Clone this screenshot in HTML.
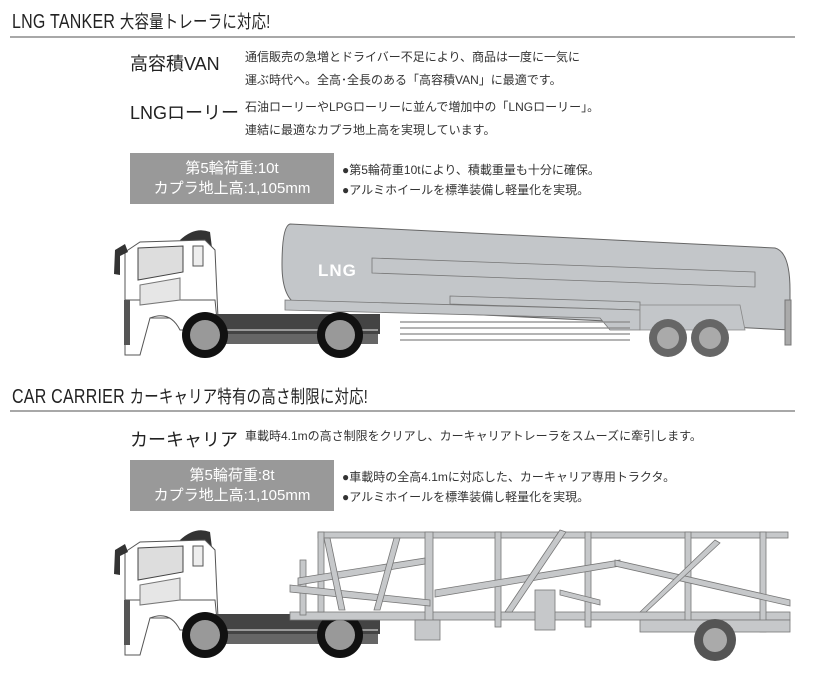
<!DOCTYPE html>
<html><head><meta charset="utf-8"><style>
body{margin:0;background:#fff;width:833px;height:676px;overflow:hidden;position:relative;font-family:"Liberation Sans","Noto Sans CJK JP",sans-serif;color:#333}
.a{position:absolute;white-space:nowrap}
.h{font-size:20px;transform:scaleX(.8);transform-origin:0 0;letter-spacing:.3px;color:#222}
.h span{font-size:18px}
.rule{position:absolute;left:10px;width:785px;height:2px;background:#a8a8a8}
.t{font-size:18px;color:#222}
.p{font-size:12px;line-height:23px}
.box{position:absolute;left:130px;width:204px;height:51px;background:#999;color:#fff;font-size:15px;line-height:20px;text-align:center;padding-top:6px;box-sizing:border-box}
.b{font-size:12px;line-height:20px}
svg{position:absolute;left:0;top:0}
</style></head><body>
<div class="a h" style="left:12px;top:8px">LNG TANKER <span>大容量トレーラに対応!</span></div>
<div class="rule" style="top:36px"></div>
<div class="a t" style="left:130px;top:50px">高容積VAN</div>
<div class="a p" style="left:245px;top:46px">通信販売の急増とドライバー不足により、商品は一度に一気に<br>運ぶ時代へ。全高･全長のある「高容積VAN」に最適です。</div>
<div class="a t" style="left:130px;top:99px">LNGローリー</div>
<div class="a p" style="left:245px;top:96px">石油ローリーやLPGローリーに並んで増加中の「LNGローリー」。<br>連結に最適なカプラ地上高を実現しています。</div>
<div class="box" style="top:153px">第5輪荷重:10t<br>カプラ地上高:1,105mm</div>
<div class="a b" style="left:342px;top:160px">●第5輪荷重10tにより、積載重量も十分に確保。<br>●アルミホイールを標準装備し軽量化を実現。</div>

<div class="a h" style="left:12px;top:383px">CAR CARRIER <span>カーキャリア特有の高さ制限に対応!</span></div>
<div class="rule" style="top:410px"></div>
<div class="a t" style="left:130px;top:426px">カーキャリア</div>
<div class="a p" style="left:245px;top:425px">車載時4.1mの高さ制限をクリアし、カーキャリアトレーラをスムーズに牽引します。</div>
<div class="box" style="top:460px">第5輪荷重:8t<br>カプラ地上高:1,105mm</div>
<div class="a b" style="left:342px;top:467px">●車載時の全高4.1mに対応した、カーキャリア専用トラクタ。<br>●アルミホイールを標準装備し軽量化を実現。</div>

<svg width="833" height="676" viewBox="0 0 833 676">
<defs>
<g id="tr">
 <path d="M180 240 Q195 226 210 232 L212 248 L185 246Z" fill="#333"/>
 <path d="M125 252 L140 242 L205 240 L215 250 L218 318 L125 318 Z" fill="#fff" stroke="#555" stroke-width="1"/>
 <path d="M125 300 L215 300 L218 330 L180 330 Q170 310 150 318 L140 355 L125 355Z" fill="#fff" stroke="#555"/>
 <path d="M138 248 L183 246 L183 272 L138 280Z" fill="#ddd" stroke="#444"/>
 <path d="M140 285 L180 278 L180 300 L140 305Z" fill="#e6e6e6" stroke="#777"/>
 <rect x="193" y="246" width="10" height="20" fill="#eee" stroke="#555"/>
 <path d="M115 250 L125 244 L128 252 L120 256 L120 275 L114 274Z" fill="#333"/>
 <rect x="124" y="300" width="6" height="45" fill="#555"/>
 <rect x="215" y="314" width="165" height="20" fill="#444"/>
 <rect x="218" y="334" width="160" height="10" fill="#666"/>
 <line x1="218" y1="330" x2="378" y2="330" stroke="#999" stroke-width="2"/>
 <circle cx="205" cy="335" r="23" fill="#111"/><circle cx="205" cy="335" r="15" fill="#999"/>
 <circle cx="340" cy="335" r="23" fill="#111"/><circle cx="340" cy="335" r="15" fill="#999"/>
</g>
</defs>
<use href="#tr"/>
<path d="M290 224 L775 248 Q790 252 790 290 L790 330 L300 306 Q282 300 282 265 Q282 226 290 224Z" fill="#c3c6c9" stroke="#666" stroke-width="1"/>
<path d="M372 258 L755 272 L755 287 L372 273Z" fill="none" stroke="#777" stroke-width=".8"/>
<path d="M450 296 L640 302 L640 310 L450 304Z" fill="none" stroke="#777" stroke-width=".8"/>
<text x="318" y="276" fill="#fff" font-family="Liberation Sans" font-weight="bold" font-size="17" letter-spacing="1">LNG</text>
<path d="M285 300 L640 310 L640 330 L610 330 L600 318 L285 310Z" fill="#c3c6c9" stroke="#777" stroke-width=".8"/>
<g stroke="#888" stroke-width="1.2"><line x1="400" y1="322" x2="630" y2="322"/><line x1="400" y1="328" x2="630" y2="328"/><line x1="400" y1="334" x2="630" y2="334"/><line x1="400" y1="340" x2="630" y2="340"/></g>
<path d="M640 305 L740 305 L745 330 L640 330Z" fill="#c3c6c9" stroke="#888" stroke-width=".8"/>
<circle cx="668" cy="338" r="19" fill="#666"/><circle cx="668" cy="338" r="11" fill="#aaa"/>
<circle cx="710" cy="338" r="19" fill="#666"/><circle cx="710" cy="338" r="11" fill="#aaa"/>
<rect x="785" y="300" width="6" height="45" fill="#aaa" stroke="#777"/>
<use href="#tr" transform="translate(0,300)"/>
<g fill="#c6c8ca" stroke="#777" stroke-width=".8">
 <rect x="318" y="532" width="470" height="6"/>
 <rect x="290" y="612" width="500" height="8"/>
 <rect x="300" y="560" width="6" height="55"/>
 <rect x="318" y="532" width="6" height="80"/>
 <rect x="425" y="532" width="8" height="95"/>
 <rect x="495" y="532" width="6" height="95"/>
 <rect x="585" y="532" width="6" height="95"/>
 <rect x="685" y="532" width="6" height="90"/>
 <rect x="760" y="532" width="6" height="100"/>
 <rect x="535" y="590" width="20" height="40"/>
 <rect x="415" y="620" width="25" height="20"/>
 <rect x="640" y="620" width="150" height="12"/>
 <path d="M290 585 L430 600 L430 606 L290 592Z"/>
 <path d="M298 578 L425 558 L425 564 L298 585Z"/>
 <path d="M435 590 L620 560 L620 566 L435 597Z"/>
 <path d="M615 560 L790 600 L790 606 L615 566Z"/>
 <path d="M505 612 L560 530 L566 532 L512 612Z"/>
 <path d="M640 612 L715 540 L720 543 L646 612Z"/>
 <path d="M330 538 L345 610 L339 610 L324 538Z"/>
 <path d="M400 538 L380 610 L374 610 L394 538Z"/>
 <path d="M560 590 L600 600 L600 605 L560 595Z"/>
</g>
<circle cx="715" cy="640" r="21" fill="#555"/><circle cx="715" cy="640" r="12" fill="#aaa"/>
</svg>
</body></html>
